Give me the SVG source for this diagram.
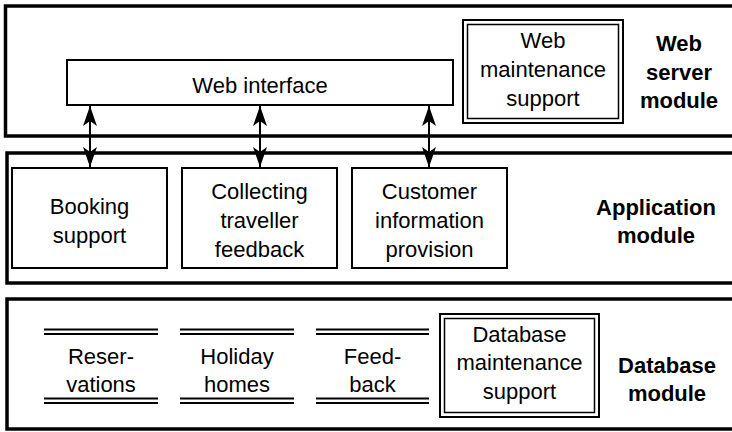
<svg xmlns="http://www.w3.org/2000/svg" width="732" height="432" viewBox="0 0 732 432">
<style>
.mod{fill:none;stroke:#000;stroke-width:3.5}
.box{fill:#fff;stroke:#000;stroke-width:2}
.outer{fill:#fff;stroke:#000;stroke-width:2}
.inner{fill:none;stroke:#000;stroke-width:1.5}
.store{stroke:#000;stroke-width:2}
.t{font-family:"Liberation Sans",Arial,Helvetica,sans-serif;font-size:22px;text-anchor:middle;fill:#000}
.b{font-weight:bold}
.conn{stroke:#000;stroke-width:2;fill:none}
</style>
<defs>
<marker id="ah" viewBox="0 0 20 14" refX="20" refY="7" markerUnits="userSpaceOnUse" markerWidth="20" markerHeight="14" orient="auto-start-reverse">
<path d="M0,0 L20,7 L0,14 L5,7 Z" fill="#000"/>
</marker>
</defs>
<g id="web-server-module">
<rect class="mod" x="5.5" y="6" width="740" height="130"/>
<text class="t b" x="679" y="51">Web</text>
<text class="t b" x="679" y="80">server</text>
<text class="t b" x="679" y="108">module</text>
</g>
<g id="application-module">
<rect class="mod" x="7" y="153" width="740" height="130"/>
<text class="t b" x="656" y="215">Application</text>
<text class="t b" x="656" y="243">module</text>
</g>
<g id="database-module">
<rect class="mod" x="7" y="299" width="740" height="130"/>
<text class="t b" x="667" y="373">Database</text>
<text class="t b" x="667" y="401">module</text>
</g>
<g id="web-interface">
<rect class="box" x="67" y="60" width="386" height="45"/>
<text class="t" x="260" y="92.5">Web interface</text>
</g>
<g id="web-maintenance-support">
<rect class="outer" x="463" y="20" width="160" height="103"/>
<rect class="inner" x="467.5" y="24.5" width="151" height="94"/>
<text class="t" x="543" y="48">Web</text>
<text class="t" x="543" y="77">maintenance</text>
<text class="t" x="543" y="106">support</text>
</g>
<g id="booking-support">
<rect class="box" x="12" y="168" width="155" height="100"/>
<text class="t" x="89.5" y="214">Booking</text>
<text class="t" x="89.5" y="243">support</text>
</g>
<g id="collecting-traveller-feedback">
<rect class="box" x="182" y="168" width="155" height="100"/>
<text class="t" x="259.5" y="199">Collecting</text>
<text class="t" x="259.5" y="228">traveller</text>
<text class="t" x="259.5" y="257">feedback</text>
</g>
<g id="customer-information-provision">
<rect class="box" x="352" y="168" width="155" height="100"/>
<text class="t" x="429.5" y="199">Customer</text>
<text class="t" x="429.5" y="228">information</text>
<text class="t" x="429.5" y="257">provision</text>
</g>
<g id="reservations">
<line class="store" x1="44" y1="329.5" x2="158" y2="329.5"/>
<line class="store" x1="44" y1="334" x2="158" y2="334"/>
<text class="t" x="101" y="364">Reser-</text>
<text class="t" x="101" y="392">vations</text>
<line class="store" x1="44" y1="398.5" x2="158" y2="398.5"/>
<line class="store" x1="44" y1="403" x2="158" y2="403"/>
</g>
<g id="holiday-homes">
<line class="store" x1="180" y1="329.5" x2="294" y2="329.5"/>
<line class="store" x1="180" y1="334" x2="294" y2="334"/>
<text class="t" x="237" y="364">Holiday</text>
<text class="t" x="237" y="392">homes</text>
<line class="store" x1="180" y1="398.5" x2="294" y2="398.5"/>
<line class="store" x1="180" y1="403" x2="294" y2="403"/>
</g>
<g id="feedback">
<line class="store" x1="316" y1="329.5" x2="429" y2="329.5"/>
<line class="store" x1="316" y1="334" x2="429" y2="334"/>
<text class="t" x="372.5" y="364">Feed-</text>
<text class="t" x="372.5" y="392">back</text>
<line class="store" x1="316" y1="398.5" x2="429" y2="398.5"/>
<line class="store" x1="316" y1="403" x2="429" y2="403"/>
</g>
<g id="database-maintenance-support">
<rect class="outer" x="440" y="314" width="159" height="103"/>
<rect class="inner" x="444.5" y="318.5" width="150" height="94"/>
<text class="t" x="519.5" y="342">Database</text>
<text class="t" x="519.5" y="370">maintenance</text>
<text class="t" x="519.5" y="399">support</text>
</g>
<g id="connectors">
<line class="conn" x1="90" y1="106" x2="90" y2="167" marker-start="url(#ah)" marker-end="url(#ah)"/>
<line class="conn" x1="260" y1="106" x2="260" y2="167" marker-start="url(#ah)" marker-end="url(#ah)"/>
<line class="conn" x1="429" y1="106" x2="429" y2="167" marker-start="url(#ah)" marker-end="url(#ah)"/>
</g>
</svg>
